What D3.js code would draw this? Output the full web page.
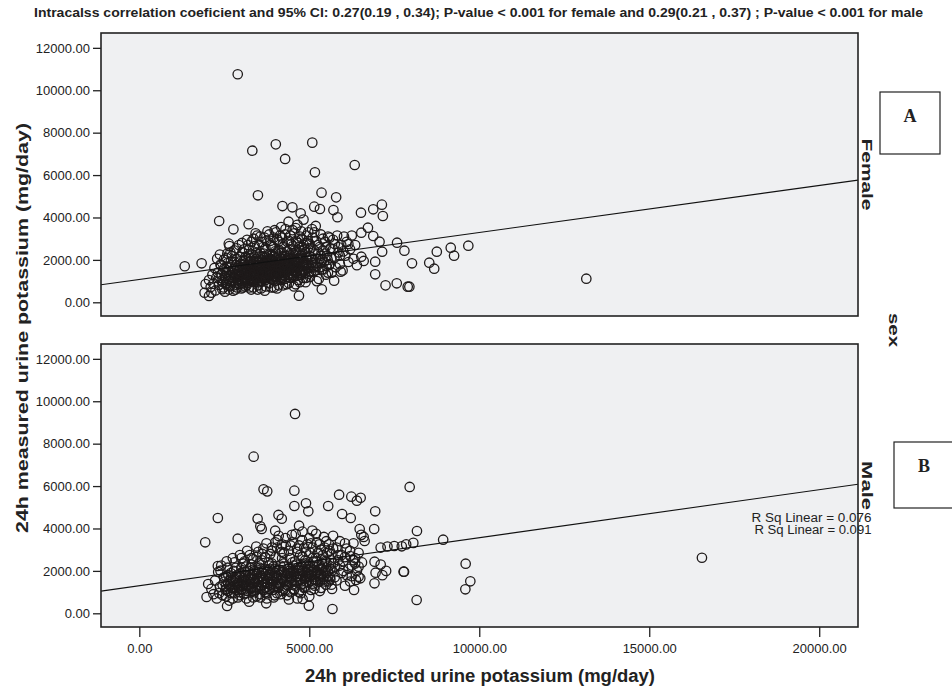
<!DOCTYPE html>
<html>
<head>
<meta charset="utf-8">
<script src="https://cdn.jsdelivr.net/npm/d3@7"></script>
<style>
  body { margin: 0; background: #fff; }
  text { font-family: "Liberation Sans", Arial, sans-serif; }
</style>
</head>
<body>
<div id="chart"></div>
<script>
// values: [predicted, measured] mg/day
var femalePoints = [
  [2895,10755],[3324,7150],[4015,7450],[4289,6760],[5088,7530],[5166,6130],[6336,6475],[3489,5047],[5360,5170],[5790,4950],
  [2349,3835],[2768,3443],[3216,3680],[2632,2765],[1336,1700],[1833,1840],[4211,4540],[4503,4480],[4746,4200],[5146,4510],
  [5313,4400],[5710,4350],[5828,4010],[6520,4226],[6881,4387],[7135,4604],[7164,4070],[6725,3519],[6881,3127],[7067,2858],
  [7143,2387],[6939,1915],[6939,1320],[7243,800],[7573,896],[7895,736],[7582,2811],[7798,2434],[4696,311],[5368,613],
  [6530,3283],[6400,1750],[6530,2150],[6600,1950],[1950,860],[1920,450],[2050,300],[5731,1019],[5924,1443],[8021,1840],
  [8529,1868],[8675,1585],[8751,2387],[9161,2575],[9259,2198],[9678,2670],[7944,736],[13149,1113],
  [2050,1050],[2100,720],[2120,450],[2150,1300],[2180,880],[2210,1620],[2240,560],[2260,1150],[2290,2050],[2310,1400],
  [2340,820],[2370,2250],[2390,1780],[2420,1020],[2440,620],[2470,1500],[2490,2000],[2520,1250],[2550,880],[2570,1680],
  [2590,2300],[2610,1100],[2630,1420],[2650,2650],[2670,760],[2690,1900],[2710,1180],[2730,2180],[2750,980],[2770,1560],
  [2790,2450],[2810,1320],[2830,600],[2850,1760],[2870,2050],[2890,1080],[2910,1450],[2930,2700],[2950,860],[2970,1650],
  [2990,1950],[3010,1250],[3030,2350],[3050,700],[3070,1520],[3090,1830],[3110,1050],[3130,2150],[3150,1380],[3170,2950],
  [3190,920],[3210,1680],[3230,2480],[3250,1150],[3270,1950],[3290,600],[3310,1420],[3330,2250],[3350,1780],[3370,950],
  [3390,2650],[3410,1300],[3430,2050],[3450,1580],[3470,3150],[3490,800],[3510,1880],[3530,1150],[3550,2350],[3570,1650],
  [3590,2850],[3610,1000],[3630,2150],[3650,1450],[3670,1850],[3690,550],[3710,2550],[3730,1250],[3750,1980],[3770,3350],
  [3790,1580],[3810,900],[3830,2250],[3850,1700],[3870,2700],[3890,1350],[3910,2000],[3930,1050],[3950,3050],[3970,1820],
  [3990,2400],[4010,1200],[4030,2100],[4050,650],[4070,1600],[4090,2850],[4110,1900],[4130,1380],[4150,2300],[4170,3550],
  [4190,1050],[4210,2050],[4230,1750],[4250,2600],[4270,1250],[4290,3200],[4310,1950],[4330,850],[4350,2400],[4370,1550],
  [4390,3800],[4410,1850],[4430,2200],[4450,1150],[4470,2750],[4490,1650],[4510,3400],[4530,2000],[4550,750],[4570,2450],
  [4590,1400],[4610,2900],[4630,1900],[4650,3650],[4670,1050],[4690,2250],[4710,1700],[4730,3100],[4750,2050],[4770,1300],
  [4790,2600],[4810,1850],[4830,3900],[4850,1500],[4870,2350],[4890,950],[4910,2800],[4930,2000],[4950,1600],[4970,3300],
  [4990,2200],[5020,1200],[5040,2550],[5070,1850],[5100,3050],[5130,1450],[5160,2300],[5190,3600],[5220,1700],[5250,2700],
  [5280,1100],[5310,2050],[5340,3200],[5370,1550],[5400,2450],[5430,1900],[5460,2850],[5490,1300],[5520,2200],[5550,3100],
  [5580,1750],[5620,2550],[5660,1400],[5700,2950],[5740,2100],[5780,1650],[5820,3150],[5860,2350],[5900,1800],[5940,2700],
  [5980,1500],[6020,3100],[6060,2200],[6100,2850],[6150,1900],[6200,2500],[6250,3150],[6300,2050],[6350,2700],
  [2820,1150],[2880,1600],[2940,1350],[3000,1800],[3060,1100],[3120,1650],[3180,1300],[3240,1900],[3300,1050],[3360,1550],
  [3420,1200],[3480,1750],[3540,1400],[3600,2000],[3660,1150],[3720,1650],[3780,1350],[3840,1950],[3900,1500],[3960,1200],
  [4020,1750],[4080,1300],[4140,2050],[4200,1500],[4260,1900],[4320,1400],[4380,2100],[4440,1600],[4500,1300],[4560,1950],
  [4620,1500],[4680,2100],[4740,1400],[4800,1700],[2860,900],[2960,2150],[3080,2500],[3160,800],[3260,1550],[3340,1250],
  [3440,2350],[3520,950],[3620,1750],[3700,1300],[3800,2050],[3880,1100],[3940,2600],[4040,1450],[4120,2450],[4180,1150],
  [4280,1650],[4360,1200],[4460,2050],[4540,1750],[4640,1250],[4720,2450],[4820,1150],[4920,1750],[5000,1450],[5080,2000],
  [3230,700],[3580,650],[3880,700],[4230,800],[4600,850],[2700,1300],[2560,1400],[2480,700],[2340,1150],[2600,1850],
  [3020,1000],[3320,1700],[3650,1100],[3980,1550],[4310,1700],[4650,1850],[4980,1350],[5150,1650],[5350,1850],[5550,1400],
  [2420,1300],[2460,950],[2500,1600],[2540,1150],[2580,800],[2620,1250],[2660,1000],[2700,1650],[2740,1400],[2780,800],
  [2800,1900],[2840,1250],[2880,1050],[2920,1700],[2960,1200],[3000,1500],[3040,900],[3080,1350],[3100,2000],[3140,1150],
  [3170,1750],[3200,1050],[3220,1450],[3260,1250],[3280,2100],[3300,1600],[3340,1000],[3360,1900],[3400,1450],[3420,1050],
  [3440,1700],[3460,1300],[3500,2150],[3520,1600],[3540,1200],[3560,1850],[3580,1000],[3600,1550],[3640,1300],[3660,2300],
  [3680,1600],[3700,1050],[3720,1900],[3740,1450],[3760,2200],[3780,1150],[3820,1550],[3840,1300],[3860,2050],[3880,1500],
  [3900,1800],[3920,1250],[3940,2150],[3960,1650],[3980,1000],[4000,1400],[4020,2300],[4040,1850],[4060,1200],[4080,1650],
  [4100,2150],[4120,1550],[4140,1100],[4160,1800],[4180,1400],[4200,2350],[4220,1300],[4240,1600],[4260,2150],[4280,1100],
  [4300,1850],[4320,2200],[4340,1600],[4360,1450],[4380,1750],[4400,1300],[4420,2500],[4440,1800],[4460,1400],[4480,2100],
  [4500,1650],[4520,2300],[4540,1200],[4560,1550],[4580,2000],[4600,1700],[4620,2350],[4640,1450],[4660,2000],[4680,1650],
  [4700,2600],[4720,1300],[4740,1850],[4760,2200],[4780,1500],[4800,2050],[4840,1750],[4860,2500],[4880,1400],[4900,2100],
  [4940,1850],[4960,2550],[5000,1650],[5040,2150],[5060,1450],[5100,1750],[5140,2450],[5180,1500],[5200,2050],[5240,1850],
  [5260,2350],[5300,1650],[5330,2200],[5380,2000],[5420,1550],[5450,2300],[5500,1700],[5540,2000],[5600,1800],[5650,2100],
  [2520,500],[2640,600],[2760,550],[2880,700],[3000,650],[3120,750],[3360,700],[3480,600],[3720,750],[3960,700],
  [4100,800],[4400,900],[4720,950],[4900,1150],[5220,1000],[2400,1750],[2560,2100],[2680,2350],[2860,2550],[3020,2800],
  [3200,2700],[3360,3000],[3520,2700],[3680,3050],[3860,2900],[4020,3300],[4200,3050],[4400,2900],[4560,3250],[4780,3000],
  [4960,2900],[5150,3300],[5400,3000],[5700,2500],[5900,2200],
  [3300,2850],[3420,3250],[3560,3100],[3640,2600],[3740,2900],[3820,3200],[3900,2650],[3980,3400],[4060,2950],[4140,3150],
  [4220,2750],[4300,3450],[4360,2850],[4440,3150],[4520,2650],[4600,3500],[4680,2800],[4760,3350],[4840,2700],[4920,3150],
  [5010,2750],[5080,3450],[5200,2900],[5300,2600],[5480,2600],[5600,3050],[5750,2750],[5850,2600],[6000,2400],[6150,2750],
  [3050,1650],[3130,1450],[3210,1250],[3290,1750],[3370,1350],[3450,1950],[3530,1450],[3610,1250],[3690,1750],[3770,1900],
  [3850,1450],[3930,1700],[4010,1550],[4090,1900],[4170,1650],[4250,1400],[4330,2000],[4410,1550],[4490,1900],[4570,1750],
  [4650,1600],[4730,2050],[4810,1450],[4890,1800],[2900,1300],[2980,1050],[3060,1950],[3140,1000],[3220,2200],[3300,1300],
  [3380,2150],[3460,1100],[3540,1750],[3620,1400],[3700,2100],[3780,1700],[3860,1250],[3940,1900],[4020,1350],[4100,1700]
];

var malePoints = [
  [7953,5958],[8167,3882],[7720,3160],[7850,3250],[8060,3320],[8938,3472],[7787,1962],[8158,627],[9600,2340],[9737,1509],
  [9591,1132],[16550,2620],[4581,9401],[3363,7387],[3655,5850],[3763,5750],[4561,5783],[4561,5061],[4903,5190],[4971,4810],
  [5556,5061],[5877,5594],[6237,5500],[6400,5310],[6511,5450],[5965,4684],[6219,4495],[6939,4811],[6909,3976],[6482,3976],
  [6628,3410],[6530,3700],[2310,4495],[1939,3349],[2895,3519],[3480,4460],[3560,4100],[3600,3976],[4094,4637],[4190,4460],
  [3997,3896],[4699,4132],[2310,2230],[2388,2010],[2026,1382],[1979,769],[2582,344],[3733,472],[4988,358],[5681,203],
  [4804,675],[6316,1099],[6918,1415],[7774,1962],[7100,3100],[7300,3150],[7500,3175],[6920,2434],[7100,2300],[7260,2000],
  [6950,1915],[7150,1800],[6375,1570],[6450,1726],
  [2120,1150],[2180,900],[2230,1550],[2280,700],[2320,1950],[2370,1250],[2410,2250],[2450,850],[2490,1700],[2530,1100],
  [2570,2450],[2610,1400],[2650,600],[2690,1900],[2720,1200],[2750,2600],[2780,950],[2810,1650],[2840,2150],[2870,1350],
  [2900,750],[2930,1850],[2960,2750],[2990,1100],[3020,1550],[3050,2350],[3080,900],[3110,1950],[3140,1300],[3170,2950],
  [3200,1650],[3230,550],[3260,2150],[3290,1200],[3320,1800],[3350,2550],[3380,1000],[3410,1500],[3440,3150],[3470,2050],
  [3500,1250],[3530,2350],[3560,750],[3590,1750],[3620,2800],[3650,1350],[3680,2100],[3710,1000],[3740,3300],[3770,1600],
  [3800,2400],[3830,1150],[3860,1900],[3890,2950],[3920,1400],[3950,2200],[3980,850],[4010,2650],[4040,1700],[4070,3450],
  [4100,1250],[4130,2050],[4160,1550],[4190,2900],[4220,1050],[4250,2350],[4280,1800],[4310,3200],[4340,1350],[4370,2100],
  [4400,650],[4430,2600],[4460,1650],[4490,3700],[4520,1950],[4550,1150],[4580,2450],[4610,1700],[4640,3050],[4670,2150],
  [4700,1000],[4730,2750],[4760,1500],[4790,3450],[4820,2000],[4850,1250],[4880,2500],[4910,1750],[4940,3250],[4970,2200],
  [5000,800],[5030,2850],[5060,1550],[5090,3900],[5130,2050],[5160,1300],[5190,2600],[5220,3350],[5250,1800],[5280,2300],
  [5310,1050],[5340,3000],[5370,2100],[5400,1600],[5430,3600],[5460,2450],[5490,1350],[5520,2850],[5550,2000],[5580,3250],
  [5610,1700],[5640,2500],[5670,1150],[5700,3050],[5750,2200],[5800,1550],[5850,2750],[5900,3400],[5950,1900],[6000,2450],
  [6050,1300],[6100,3050],[6150,2100],[6200,2700],[6250,1750],[6300,3300],[6350,2350],[6400,2000],[6450,2850],[6500,1650],
  [6550,2400],[6600,3600],
  [2800,1450],[2880,1100],[2950,1700],[3030,1300],[3100,1800],[3180,1050],[3250,1500],[3330,1250],[3400,2000],[3480,1600],
  [3550,1150],[3630,1900],[3700,1450],[3780,2050],[3850,1650],[3930,1100],[4000,1900],[4080,1450],[4150,2250],[4230,1650],
  [4300,1100],[4380,1900],[4450,1450],[4530,2250],[4600,1500],[4680,2000],[4750,1350],[4830,2300],[4900,1500],[4980,2050],
  [5050,1800],[5120,2400],[5200,1550],[5270,2050],[5350,1800],[5420,2200],[5500,1900],[5570,1500],[3150,700],[3450,800],
  [3750,700],[4050,950],[4350,850],[4650,700],[2600,1050],[2700,1650],[3000,2150],[3300,2300],[3600,2500],[3900,2350],
  [4200,2600],[4500,2400],[4800,2650],[5100,2600],[2450,1350],[2350,950],[2550,1750],[2900,1250],[3200,2000],[3520,1950],
  [3820,1800],[4120,1800],[4420,1750],[4720,1850],[5020,1750],[5320,1550],[5620,2100],[5900,2250],[6100,1800],
  [2500,1500],[2560,1150],[2620,1800],[2660,1300],[2700,950],[2740,1550],[2780,2000],[2820,1200],[2860,1700],[2900,1450],
  [2940,1000],[2980,1900],[3020,1150],[3060,1650],[3100,1400],[3140,2200],[3180,1550],[3220,1200],[3260,1800],[3300,1450],
  [3340,2050],[3380,1650],[3420,1100],[3460,1850],[3500,1500],[3540,2150],[3580,1300],[3620,1650],[3660,2000],[3700,1200],
  [3740,1750],[3780,1400],[3820,2250],[3860,1350],[3900,1800],[3940,1600],[3980,2100],[4020,1300],[4060,1750],[4100,2050],
  [4140,1400],[4180,1950],[4220,1600],[4260,2200],[4300,1500],[4340,1850],[4380,1300],[4420,2150],[4460,1900],[4500,1550],
  [4540,2000],[4580,1300],[4620,2300],[4660,1750],[4700,2050],[4740,1600],[4780,2250],[4820,1400],[4860,1950],[4900,2350],
  [4940,1700],[4980,1450],[5020,2300],[5060,1950],[5100,1400],[5140,2200],[5180,1850],[5220,2450],[5260,1500],[5300,2100],
  [5340,1850],[5380,2550],[5420,1700],[5460,2000],[5500,2400],[5540,1750],[5580,2250],[5620,1600],[5660,2000],[5700,2350],
  [2550,800],[2750,700],[2950,850],[3150,950],[3350,750],[3550,900],[3750,950],[3950,750],[4150,900],[4450,1000],
  [4750,950],[5050,1100],[5350,1200],[5650,1350],[2600,2150],[2800,2400],[3000,2600],[3250,2750],[3450,2650],[3650,3050],
  [3850,2800],[4050,3100],[4250,2850],[4450,3200],[4650,2900],[4850,3100],[5050,3300],[5250,2850],[5450,3100],[5650,2800],
  [5850,2500],[6050,2650],[6250,2250],[6450,2200],[3350,1050],[3650,1100],[3950,1250],[4250,1150],[4550,1100],[4850,1200],
  [5150,1150],[5450,1500],[5750,1700],[6000,2000],[6200,1500],[6350,2600],
  [3900,3100],[4000,3350],[4100,3650],[4200,3250],[4300,3550],[4400,2950],[4500,3350],[4600,3750],[4700,3200],[4800,3850],
  [4900,2900],[5000,3550],[5100,3100],[5200,3750],[5300,3250],[5400,2750],[5500,3400],[5600,2950],[5700,3650],[5800,3100],
  [5950,2750],[6050,3300],[6200,2950],[6300,2500],[3500,2900],[3700,2650],[3300,2600],[3100,2450],
  [3050,1450],[3130,1750],[3210,1350],[3290,1650],[3370,1400],[3450,1250],[3530,1700],[3610,1450],[3690,1850],[3770,1250],
  [3850,2100],[3930,1500],[4010,1700],[4090,1200],[4170,1650],[4250,1950],[4330,1500],[4410,2000],[4490,1350],[4570,1850],
  [4650,1450],[4730,2150],[4810,1750],[4890,1650],[4970,1850],[5050,2100],[5130,1600],[5210,1950],[5290,1750],[5370,2350],
  [2850,1550],[2950,1350],[2750,1250],[2650,1550],[2550,1300]
];

var panelNames = ["Female", "Male"];
var boxLetters = ["A", "B"];
var fitIntercept = [1075, 1300];
var fitSlope = [0.2218, 0.2265];
var rsqLabels = ["R Sq Linear = 0.076", "R Sq Linear = 0.091"];
var xTicks = [0, 5000, 10000, 15000, 20000];
var yTicks = [0, 2000, 4000, 6000, 8000, 10000, 12000];

var titleText = "Intracalss correlation coeficient and 95% CI: 0.27(0.19 , 0.34); P-value < 0.001 for female and 0.29(0.21 , 0.37) ; P-value < 0.001 for male";
var xTitle = "24h predicted urine potassium (mg/day)";
var yTitle = "24h measured urine potassium (mg/day)";
var stripTitle = "sex";

var w = 952, h = 690;
var left = 101, right = 858, panelH = 283;
var panelTops = [33, 344];

var svg = d3.select("#chart").append("svg")
    .attr("width", w)
    .attr("height", h);

var x = d3.scaleLinear().domain([-1127, 21141]).range([left, right]);
var y = d3.scaleLinear().domain([-646, 12700]).range([panelH, 0]);
var fmt = d3.format(".2f");

svg.append("defs").append("clipPath").attr("id", "clip")
    .append("rect").attr("x", left).attr("y", 0).attr("width", right - left).attr("height", panelH);

var data = [femalePoints, malePoints];

panelTops.forEach(function(top, i) {
    var g = svg.append("g").attr("transform", "translate(0," + top + ")");

    g.append("rect")
        .attr("x", left).attr("y", 0)
        .attr("width", right - left).attr("height", panelH)
        .style("fill", "#eff0f2");

    var yAxis = g.append("g")
        .attr("transform", "translate(" + left + ",0)")
        .call(d3.axisLeft(y).tickValues(yTicks).tickFormat(fmt).tickSize(8).tickPadding(3));
    yAxis.select(".domain").remove();
    yAxis.selectAll("line").style("stroke", "#222").style("stroke-width", 1.3);
    yAxis.selectAll("text").style("font-size", "13px").style("fill", "#222")
        .style("font-family", "'Liberation Sans', Arial, sans-serif");

    var plot = g.append("g").attr("clip-path", "url(#clip)");

    plot.selectAll("circle")
        .data(data[i])
        .enter().append("circle")
        .attr("cx", function(d) { return x(d[0]); })
        .attr("cy", function(d) { return y(d[1]); })
        .attr("r", 4.7)
        .style("fill", "none")
        .style("stroke", "#1e1a1a")
        .style("stroke-width", 1.3);

    var xd = x.domain();
    plot.append("line")
        .attr("x1", x(xd[0])).attr("y1", y(fitIntercept[i] + fitSlope[i] * xd[0]))
        .attr("x2", x(xd[1])).attr("y2", y(fitIntercept[i] + fitSlope[i] * xd[1]))
        .style("stroke", "#111")
        .style("stroke-width", 1.1);

    g.append("rect")
        .attr("x", left).attr("y", 0)
        .attr("width", right - left).attr("height", panelH)
        .style("fill", "none")
        .style("stroke", "#222")
        .style("stroke-width", 1.6);

    // strip label on the right of each panel
    g.append("text")
        .attr("transform", "translate(862," + (panelH / 2) + ") rotate(90)")
        .attr("text-anchor", "middle")
        .attr("textLength", i === 0 ? 72 : 49)
        .attr("lengthAdjust", "spacingAndGlyphs")
        .style("font-size", "15px")
        .style("font-weight", "bold")
        .style("fill", "#222")
        .text(panelNames[i]);
});

// x axis under the bottom panel
var xAxis = svg.append("g")
    .attr("transform", "translate(0," + (panelTops[1] + panelH) + ")")
    .call(d3.axisBottom(x).tickValues(xTicks).tickFormat(fmt).tickSize(10).tickPadding(7));
xAxis.select(".domain").remove();
xAxis.selectAll("line").style("stroke", "#222").style("stroke-width", 1.3);
xAxis.selectAll("text").style("font-size", "13px").style("fill", "#222")
    .style("font-family", "'Liberation Sans', Arial, sans-serif");

// R squared notes
svg.selectAll(".rsq")
    .data(rsqLabels)
    .enter().append("text")
    .attr("class", "rsq")
    .attr("x", 871.5)
    .attr("y", function(d, i) { return 522 + i * 11.5; })
    .attr("text-anchor", "end")
    .attr("textLength", function(d, i) { return i === 0 ? 120 : 117; })
    .attr("lengthAdjust", "spacingAndGlyphs")
    .style("font-size", "12px")
    .style("fill", "#222")
    .text(function(d) { return d; });

// titles
svg.append("text")
    .attr("x", 478.5).attr("y", 17)
    .attr("text-anchor", "middle")
    .attr("textLength", 889)
    .attr("lengthAdjust", "spacingAndGlyphs")
    .style("font-size", "13px")
    .style("font-weight", "bold")
    .style("fill", "#222")
    .text(titleText);

svg.append("text")
    .attr("x", 480).attr("y", 682)
    .attr("text-anchor", "middle")
    .attr("textLength", 350)
    .attr("lengthAdjust", "spacingAndGlyphs")
    .style("font-size", "18px")
    .style("font-weight", "bold")
    .style("fill", "#222")
    .text(xTitle);

svg.append("text")
    .attr("transform", "translate(27.5,328) rotate(-90)")
    .attr("text-anchor", "middle")
    .attr("textLength", 410)
    .attr("lengthAdjust", "spacingAndGlyphs")
    .style("font-size", "17px")
    .style("font-weight", "bold")
    .style("fill", "#222")
    .text(yTitle);

svg.append("text")
    .attr("transform", "translate(889,330) rotate(90)")
    .attr("text-anchor", "middle")
    .attr("textLength", 34)
    .attr("lengthAdjust", "spacingAndGlyphs")
    .style("font-size", "15px")
    .style("font-weight", "bold")
    .style("fill", "#222")
    .text(stripTitle);

// panel letter boxes
var boxes = [{x: 880, y: 92, w: 60, h: 62}, {x: 894, y: 442, w: 62, h: 66}];
boxes.forEach(function(b, i) {
    svg.append("rect")
        .attr("x", b.x).attr("y", b.y).attr("width", b.w).attr("height", b.h)
        .style("fill", "#fff")
        .style("stroke", "#222")
        .style("stroke-width", 1.2);
    svg.append("text")
        .attr("x", b.x + 30).attr("y", b.y + 30)
        .attr("text-anchor", "middle")
        .style("font-family", "'Liberation Serif', 'Times New Roman', serif")
        .style("font-size", "18px")
        .style("font-weight", "bold")
        .style("fill", "#222")
        .text(boxLetters[i]);
});
</script>
</body>
</html>
